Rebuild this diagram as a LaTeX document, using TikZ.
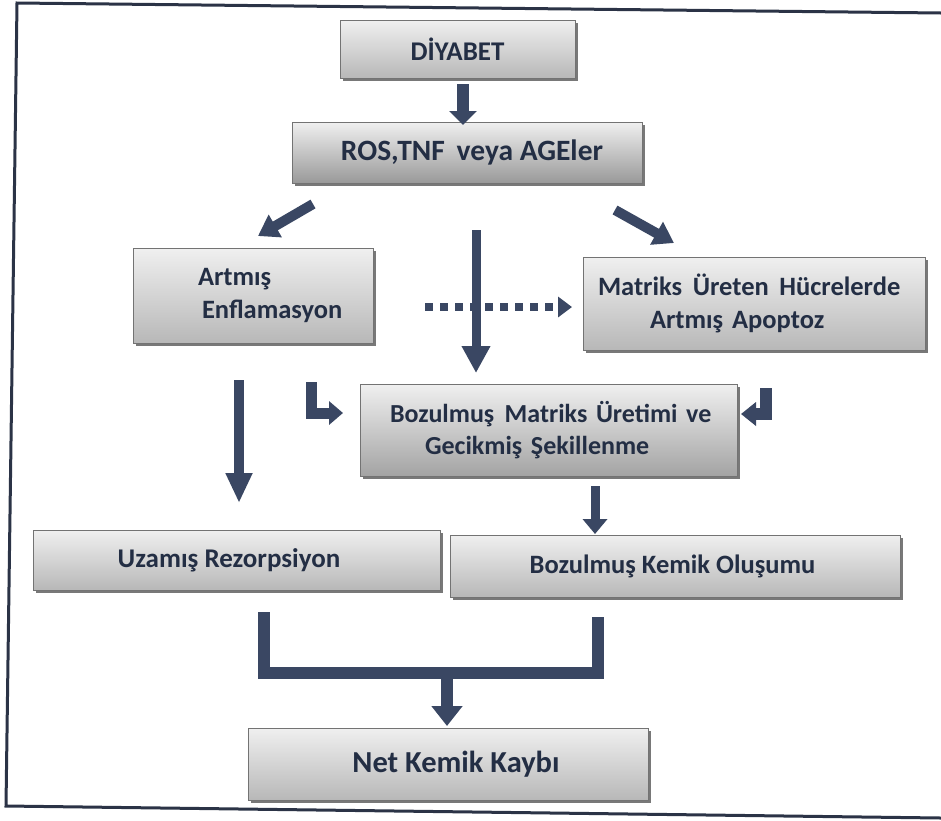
\documentclass[tikz,border=0pt]{standalone}
\usepackage{fontspec}
\setmainfont{Carlito}
\usetikzlibrary{arrows.meta,shadows}
\definecolor{arrowc}{HTML}{3A4763}
\definecolor{textc}{HTML}{232E44}
\definecolor{framec}{HTML}{2B3346}
\begin{document}
\begin{tikzpicture}[x=1pt,y=-1pt,
  boxstyle/.style={draw=black!55, line width=0.7pt, top color=black!6, bottom color=black!28,
    text=textc, inner sep=0pt,
    drop shadow={shadow xshift=2.5pt, shadow yshift=-3pt, fill=black!70, opacity=0.75}},
  midfont/.style={font=\bfseries\fontsize{26.5}{33}\selectfont},
  barrow/.style={draw=arrowc, line width=#1, line cap=butt, line join=miter},
]
\fill[white] (0,0) rectangle (941,820);
\useasboundingbox (0,0) rectangle (941,820);
% frame
\draw[framec, line width=3pt, line join=miter, line cap=butt] (941,13) -- (17,3) -- (6,806) -- (941,818);

% boxes
\node[boxstyle, minimum width=235pt, minimum height=58pt, font=\bfseries\fontsize{27}{33}\selectfont] (diy) at (457.5,49) {DİYABET};
\node[boxstyle, minimum width=350pt, minimum height=61pt, bottom color=black!40, font=\bfseries\fontsize{29.5}{36}\selectfont] (ros) at (467,152.5) {\hspace*{10pt}ROS,TNF\hspace{0.4em}veya AGEler};
\node[boxstyle, midfont, minimum width=240pt, minimum height=95pt, text width=240pt, align=left] (enf) at (253,295.5)
  {\hspace*{65pt}Artmış\\\hspace*{69pt}Enflamasyon};
\node[boxstyle, midfont, minimum width=342pt, minimum height=93pt, text width=342pt, align=left] (apo) at (754,303.5)
  {\hspace*{15pt}Matriks\hspace{0.4em}Üreten\hspace{0.4em}Hücrelerde\\\hspace*{67pt}Artmış Apoptoz};
\node[boxstyle, font=\bfseries\fontsize{26}{32}\selectfont, minimum width=377pt, minimum height=92pt, text width=377pt, align=left, bottom color=black!36] (bmu) at (548.5,430)
  {\hspace*{30pt}Bozulmuş\hspace{0.4em}Matriks Üretimi ve\\\hspace*{65pt}Gecikmiş Şekillenme};
\node[boxstyle, font=\bfseries\fontsize{27}{33}\selectfont, minimum width=407pt, minimum height=60pt] (uza) at (236.5,560) {Uzamış Rezorpsiyon\hspace*{15pt}};
\node[boxstyle, midfont, minimum width=450pt, minimum height=62pt] (bko) at (675,566) {Bozulmuş Kemik Oluşumu\hspace*{5pt}};
\node[boxstyle, font=\bfseries\fontsize{30.5}{38}\selectfont, minimum width=400pt, minimum height=72pt] (net) at (448,764) {\hspace*{16pt}Net Kemik Kaybı};

% arrow end points
\coordinate (a1s) at (463,84);   \coordinate (a1e) at (463,125);
\coordinate (a2s) at (313,204);  \coordinate (a2e) at (258,236);
\coordinate (a3s) at (615,210);  \coordinate (a3e) at (674,243);
\coordinate (a4s) at (476,230);  \coordinate (a4e) at (476,373);
\coordinate (a5s) at (425,307);  \coordinate (a5e) at (572,307);
\coordinate (a6s) at (239,380);  \coordinate (a6e) at (239,503);
\coordinate (a7s) at (311.5,382); \coordinate (a7c) at (311.5,413); \coordinate (a7e) at (343,413);
\coordinate (a8s) at (766,388);  \coordinate (a8c) at (766,414);  \coordinate (a8e) at (741,414);
\coordinate (a9s) at (595,486);  \coordinate (a9e) at (595,534);
\coordinate (bl) at (264,612); \coordinate (blc) at (264,673); \coordinate (brc) at (598,673); \coordinate (br) at (598,617);
\coordinate (bm) at (447,673); \coordinate (a11e) at (447,726);

% arrows
\draw[barrow=12pt, -{Triangle[width=27pt,length=14pt]}] (a1s) -- (a1e);
\draw[barrow=10pt, -{Triangle[width=25pt,length=20pt]}] (a2s) -- (a2e);
\draw[barrow=10pt, -{Triangle[width=25pt,length=20pt]}] (a3s) -- (a3e);
\draw[barrow=8pt, dash pattern=on 8pt off 7pt, -{Triangle[width=20pt,length=14pt]}] (a5s) -- (a5e);
\draw[barrow=9pt, -{Triangle[width=27pt,length=27pt]}] (a4s) -- (a4e);
\draw[barrow=10pt, -{Triangle[width=25pt,length=30pt]}] (a6s) -- (a6e);
\draw[barrow=11pt, -{Triangle[width=23pt,length=14pt]}] (a7s) -- (a7c) -- (a7e);
\draw[barrow=12pt, -{Triangle[width=23pt,length=15pt]}] (a8s) -- (a8c) -- (a8e);
\draw[barrow=9pt, -{Triangle[width=24pt,length=15pt]}] (a9s) -- (a9e);
\draw[barrow=12pt] (bl) -- (blc) -- (brc) -- (br);
\draw[barrow=12pt, -{Triangle[width=30pt,length=20pt]}] (bm) -- (a11e);
\end{tikzpicture}
\end{document}
